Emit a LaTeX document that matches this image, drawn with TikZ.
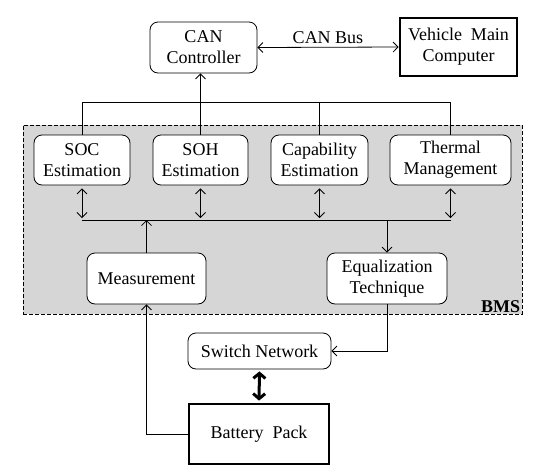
\documentclass[tikz,border=0pt]{standalone}
\usepackage{fontspec}
\setmainfont{Liberation Serif}
\usetikzlibrary{arrows.meta, positioning}
\tikzset{
  blk/.style   ={rectangle, draw=black, line width=0.8pt, rounded corners=8pt,
                 fill=white, align=center, inner sep=2pt},
  hvy/.style   ={rectangle, draw=black, line width=2.8pt, fill=white,
                 align=center, inner sep=2pt},
  bmsbox/.style={rectangle, draw=black, line width=0.8pt, dash pattern=on 4pt off 2pt,
                 fill=black!16, inner sep=0pt},
  ar/.style    ={-{Straight Barb[length=5pt, width=10pt]}, line width=0.8pt},
  dar/.style   ={{Straight Barb[length=5pt, width=10pt]}-{Straight Barb[length=5pt, width=10pt]},
                 line width=0.8pt},
  bar/.style   ={{Straight Barb[length=5pt, width=12pt]}-{Straight Barb[length=5pt, width=12pt]},
                 line width=3pt},
  ln/.style    ={line width=0.8pt}
}
\begin{document}
\begin{tikzpicture}[x=1pt, y=-1pt,
  every node/.style={font=\fontsize{18}{21}\selectfont, text=black}]
\useasboundingbox (0,0) rectangle (550,475);
% BMS frame
\node[bmsbox, minimum width=499pt, minimum height=189pt] (bms) at (272.5,219.5) {};
\node[anchor=south east, font=\fontsize{18}{21}\selectfont\bfseries, inner sep=2pt] (bmslbl) at (bms.south east) {BMS};
% top
\node[blk, minimum width=107pt, minimum height=51pt] (can) at (203.5,47.5) {CAN\\Controller};
\node[hvy, minimum width=117pt, minimum height=58pt] (vmc) at (458.5,47) {Vehicle\ \ Main\\Computer};
% estimation row
\node[blk, minimum width=96pt,  minimum height=50pt] (soc) at (82,160)    {SOC\\Estimation};
\node[blk, minimum width=95pt,  minimum height=50pt] (soh) at (200.5,160) {SOH\\Estimation};
\node[blk, minimum width=97pt,  minimum height=50pt] (cap) at (319.5,160) {Capability\\Estimation};
\node[blk, minimum width=121pt, minimum height=50pt] (thm) at (450.5,160) {Thermal\\Management};
% lower row
\node[blk, minimum width=119pt, minimum height=51pt] (meas) at (146.5,278.5) {Measurement};
\node[blk, minimum width=120pt, minimum height=51pt] (equ)  at (387,278.5)   {Equalization\\Technique};
% outside
\node[blk, minimum width=143pt, minimum height=36pt] (sw)  at (259.5,351) {Switch Network};
\node[hvy, minimum width=140pt, minimum height=60pt] (bat) at (259,434)   {Battery\ \ Pack};
\coordinate (tb) at (0,102);
\coordinate (lb) at (0,220);
% connectors
\draw[dar] (can.east) -- node[above, inner sep=3pt]{CAN Bus} (vmc.west);
\draw[ln] (soc.north) |- (thm.north |- tb) -- (thm.north);
\draw[ln] (cap.north) -- (cap.north |- tb);
\draw[ar] (soh.north) -- (soh.north |- can.south);
\draw[ln] (soc.south |- lb) -- (thm.south |- lb);
\foreach \n in {soc,soh,cap,thm}
  \draw[dar, shorten <=3pt, shorten >=2pt] (\n.south) -- (\n.south |- lb);
\draw[ar] (meas.north) -- (meas.north |- lb);
\draw[ar] (equ.north |- lb) -- (equ.north);
\draw[ar] (equ.south) |- (sw.east);
\draw[bar, shorten <=2pt, shorten >=2pt] (sw.south) -- (bat.north);
\draw[ar] (bat.west) -| (meas.south);
\end{tikzpicture}
\end{document}
